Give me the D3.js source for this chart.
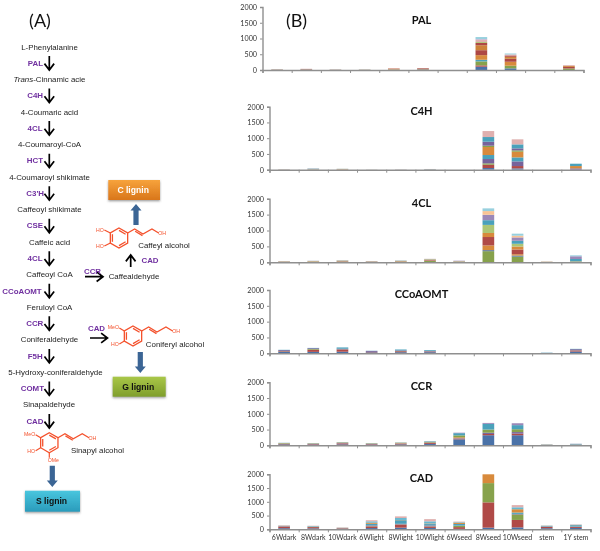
<!DOCTYPE html>
<html><head><meta charset="utf-8">
<script src="https://cdn.jsdelivr.net/npm/d3@7"></script>
<style>
html,body{margin:0;padding:0;background:#fff}
svg{display:block;filter:blur(0.3px)}
</style></head><body>
<svg id="c" width="600" height="551"></svg>
<script>
// ---------- DATA ----------
const categories = ["6Wdark","8Wdark","10Wdark","6Wlight","8Wlight","10Wlight","6Wseed","8Wseed","10Wseed","stem","1Y stem"];
const yTicks = [0,500,1000,1500,2000];

const PAL_values = [
 [5,8,3,4,5,8,0,105,52,0,0],
 [5,10,4,3,5,14,0,42,0,0,0],
 [4,4,3,3,5,8,0,126,84,0,50],
 [2,3,2,2,5,6,0,52,0,0,0],
 [2,4,1,2,20,6,0,147,126,0,0],
 [2,6,2,1,10,18,0,157,95,0,50],
 [0,0,0,0,0,0,0,157,63,0,30],
 [0,0,0,0,0,0,0,73,42,0,0],
 [0,0,0,0,0,0,0,30,0,0,0],
 [0,0,0,0,0,0,0,73,31,0,25],
 [0,0,0,0,0,0,0,21,0,0,0],
 [0,0,0,0,0,0,0,63,31,0,0]
];
const C4H_values = [
 [3,2,2,1,2,3,0,53,42,0,0],
 [4,3,3,1,2,3,0,106,74,0,0],
 [2,2,2,1,1,2,0,42,0,0,0],
 [1,3,2,1,2,3,0,138,148,0,42],
 [1,5,3,1,1,3,0,127,127,0,0],
 [1,5,10,1,1,2,0,254,180,0,74],
 [0,3,3,0,0,1,0,42,42,0,0],
 [0,3,2,0,0,1,0,127,64,0,0],
 [0,10,1,0,0,3,0,148,127,0,74],
 [0,6,1,0,0,2,0,190,160,0,0]
];
const FCL_values = [
 [10,15,20,10,20,40,10,350,180,5,20],
 [3,4,5,3,4,8,3,32,32,0,0],
 [5,6,8,5,6,10,5,148,42,3,10],
 [6,6,10,6,6,22,6,265,148,5,0],
 [4,4,5,4,4,8,6,127,95,3,0],
 [4,5,6,4,6,10,6,254,85,3,0],
 [3,3,5,3,5,5,4,148,95,2,74],
 [3,4,6,4,5,4,10,170,106,2,85],
 [1,2,3,1,2,2,0,117,53,2,0],
 [1,1,2,0,2,1,0,85,64,0,30]
];
const CCoAOMT_values = [
 [45,45,50,30,35,35,0,0,0,3,55],
 [20,70,70,12,30,20,0,0,0,2,35],
 [5,20,5,3,5,5,0,0,0,2,5],
 [30,25,20,30,20,15,0,0,0,5,35],
 [10,10,40,5,30,25,0,0,0,8,10]
];
const CCR_values = [
 [30,25,30,25,30,40,190,320,320,10,15],
 [15,15,30,15,20,30,20,40,50,3,5],
 [8,5,10,5,10,15,15,40,50,2,5],
 [5,5,5,5,10,5,30,0,0,2,0],
 [15,12,15,12,12,20,60,100,90,5,5],
 [5,5,5,5,5,15,70,180,130,5,15],
 [2,3,5,3,3,5,15,30,60,3,5]
];
const CAD_values = [
 [40,35,15,45,60,50,15,60,70,40,50],
 [60,45,20,60,110,50,65,920,270,50,35],
 [5,5,5,10,10,10,45,700,200,5,5],
 [10,5,5,25,20,30,10,0,20,10,10],
 [5,15,5,60,130,50,60,0,50,15,50],
 [5,5,5,40,10,20,45,320,120,5,5],
 [10,10,5,50,70,80,20,0,70,10,10],
 [15,10,10,40,60,80,20,0,80,5,15]
];

const pathwaySteps = ["L-Phenylalanine","Trans-Cinnamic acie","4-Coumaric acid","4-Coumaroyl-CoA","4-Coumaroyl shikimate","Caffeoyl shikimate","Caffeic acid","Caffeoyl CoA","Feruloyl CoA","Coniferaldehyde","5-Hydroxy-coniferaldehyde","Sinapaldehyde"];
const pathwayEnzymes = ["PAL","C4H","4CL","HCT","C3'H","CSE","4CL","CCoAOMT","CCR","F5H","COMT","CAD"];

// ---------- STYLE / LAYOUT ----------
const palette = ["#4a72a8","#b04a47","#87a24c","#77639b","#4aa1bb","#d88a3c",
 "#3a689b","#ad4744","#7a9745","#68558e","#3a90aa","#cd8238",
 "#7c9dca","#cc6a66","#adc676","#9b88b8","#65b8d0","#ef9f5e",
 "#aac1e0","#dfb0af","#c8d8a2","#baabcf","#98d0de","#f9c495"];
const panels = [
 {title:"PAL", values:PAL_values, colors:[0,1,2,4,5,7,11,7,14,19,21,22], x0:262.5, top:7, bottom:70, ty:20.5},
 {title:"C4H", values:C4H_values, colors:[0,1,2,3,4,5,2,3,4,19], x0:269.5, top:106.7, bottom:169.7, ty:111},
 {title:"4CL", values:FCL_values, colors:[2,0,5,1,5,14,4,15,23,22], x0:269.5, top:198.7, bottom:262.3, ty:203},
 {title:"CCoAOMT", values:CCoAOMT_values, colors:[0,1,2,3,4], x0:269.5, top:290, bottom:353.3, ty:294},
 {title:"CCR", values:CCR_values, colors:[0,1,3,5,2,4,15], x0:269.5, top:382.3, bottom:445.3, ty:386},
 {title:"CAD", values:CAD_values, colors:[0,1,2,3,4,5,16,19], x0:269.5, top:474.3, bottom:529.3, ty:478, labels:true}
];
const plotW = 321, axisCol = "#8f8f8f";
const svg = d3.select("#c");

// ---------- PANEL B ----------
panels.forEach(p=>{
  const x = d3.scaleBand().domain(categories).range([p.x0,p.x0+plotW]).paddingInner(0.6).paddingOuter(0.3);
  const bx = d3.scaleLinear().domain([0,categories.length]).range([p.x0,p.x0+plotW]);
  const y = d3.scaleLinear().domain([0,2000]).range([p.bottom,p.top]);
  const rows = categories.map((c,i)=>{const o={cat:c};p.values.forEach((s,k)=>o[k]=s[i]);return o;});
  const stack = d3.stack().keys(p.values.map((_,k)=>k))(rows);
  const g = svg.append("g");
  g.selectAll("g.s").data(stack).join("g").attr("fill",(d,k)=>palette[p.colors[k]])
   .selectAll("rect").data(d=>d).join("rect")
   .attr("x",d=>x(d.data.cat)).attr("width",x.bandwidth())
   .attr("y",d=>y(d[1])).attr("height",d=>Math.max(0,y(d[0])-y(d[1])));
  const ya = g.append("g").attr("transform",`translate(${p.x0},0)`)
    .call(d3.axisLeft(y).tickValues(yTicks).tickFormat(d3.format("d")).tickSize(2.5).tickPadding(3));
  const xa = g.append("g").attr("transform",`translate(0,${p.bottom})`)
    .call(d3.axisBottom(bx).ticks(categories.length).tickSize(3).tickFormat(""));
  [ya,xa].forEach(a=>{
    a.selectAll("path").attr("stroke",axisCol).attr("stroke-width",1.4);
    a.selectAll("line").attr("stroke",axisCol).attr("stroke-width",1);
  });
  ya.selectAll("text").attr("font-family","Lato").attr("font-size",7.2).attr("fill","#333");
  if(p.labels){
    const la = g.append("g").attr("transform",`translate(0,${p.bottom})`)
      .call(d3.axisBottom(x).tickSize(0).tickPadding(6));
    la.select("path").remove();
    la.selectAll("text").attr("font-family","Lato").attr("font-size",7).attr("fill","#333");
  }
  g.append("text").attr("x",421.5).attr("y",p.ty).attr("dy","0.35em").attr("text-anchor","middle")
   .attr("font-family","Lato").attr("font-weight",700).attr("font-size",11).attr("fill","#111").text(p.title);
});

// ---------- PANEL A ----------
const sans = "'Liberation Sans'";
function label(x,y,t,o={}){
  return svg.append("text").attr("x",x).attr("y",y).attr("dy","0.35em")
   .attr("text-anchor",o.anchor||"middle").attr("font-family",o.family||sans)
   .attr("font-size",o.size||7.9).attr("font-weight",o.weight||400).attr("fill",o.fill||"#222").text(t);
}
[["(A)",40,21],["(B)",296.5,21]].forEach(d=>label(d[1],d[2],d[0],{family:"Lato",size:18,fill:"#111"}));

const stepY = d3.scaleLinear().domain([0,11]).range([47,404.5]);
const enzY = d3.scaleLinear().domain([0,11]).range([63,421]);
const enzEnd = [43,43,42.5,43,44,43,42.5,41.7,43.3,42.7,44,43.5];
pathwaySteps.forEach((s,i)=>{
  const cx = i===10?55.5:(i===11?49:49.5);
  if(i===1){
    const t = label(cx,stepY(i),"");
    t.append("tspan").attr("font-style","italic").text("Trans");
    t.append("tspan").text("-Cinnamic acie");
  } else label(cx,stepY(i),s);
});
function blackArrow(x1,y1,x2,y2){
  const a=Math.atan2(y2-y1,x2-x1), h=8;
  const p1=[x2-h*Math.cos(a-0.65),y2-h*Math.sin(a-0.65)], p2=[x2-h*Math.cos(a+0.65),y2-h*Math.sin(a+0.65)];
  svg.append("path").attr("d",`M${x1},${y1}L${x2},${y2}M${p1}L${x2},${y2}L${p2}`)
   .attr("fill","none").attr("stroke","#000").attr("stroke-width",1.7);
}
pathwayEnzymes.forEach((e,i)=>{
  label(enzEnd[i],enzY(i),e,{anchor:"end",fill:"#7030a0",weight:700,size:7.9});
  blackArrow(49.3,enzY(i)-7,49.3,enzY(i)+7);
});
blackArrow(85,276.7,103,276.7); label(92.5,271.5,"CCR",{fill:"#7030a0",weight:700});
blackArrow(90,338,107.5,338);   label(96.5,328.5,"CAD",{fill:"#7030a0",weight:700});
blackArrow(130.7,267,130.7,255);label(150,260,"CAD",{fill:"#7030a0",weight:700});
label(134,276.5,"Caffealdehyde",{});
label(164,245,"Caffeyl alcohol");
label(175,344,"Coniferyl alcohol");
label(97.5,450.5,"Sinapyl alcohol");

function molecule(cx,cy,subs){
  const red="#f4512c", r=10, g=svg.append("g");
  const v=d3.range(6).map(k=>[cx+r*Math.cos((-90+60*k)*Math.PI/180),cy+r*Math.sin((-90+60*k)*Math.PI/180)]);
  const line=d3.line();
  g.append("path").attr("d",line(v)+"Z").attr("fill","none").attr("stroke",red).attr("stroke-width",1.3);
  [[0,1],[2,3],[4,5]].forEach(([a,b])=>{
    const s=0.76;
    const pa=[cx+(v[a][0]-cx)*s,cy+(v[a][1]-cy)*s],pb=[cx+(v[b][0]-cx)*s,cy+(v[b][1]-cy)*s];
    g.append("path").attr("d",line([pa,pb])).attr("stroke",red).attr("stroke-width",1.3);
  });
  const c=v[1];
  const ch=[c,[c[0]+7,c[1]-4],[c[0]+15.3,c[1]+1],[c[0]+24.3,c[1]-4],[c[0]+31,c[1]]];
  g.append("path").attr("d",line(ch)).attr("fill","none").attr("stroke",red).attr("stroke-width",1.3);
  g.append("path").attr("d",line([[c[0]+7.5,c[1]-1.8],[c[0]+14.8,c[1]+2.6]])).attr("fill","none").attr("stroke",red).attr("stroke-width",1.3);
  label(c[0]+34.5,c[1]+.3,"OH",{fill:red,size:5.2});
  subs.forEach(s=>{
    const p=v[s.v];
    const q=[p[0]+s.dx,p[1]+s.dy];
    g.append("path").attr("d",line([p,q])).attr("stroke",red).attr("stroke-width",1.2);
    label(q[0]+s.tx,q[1]+s.ty,s.t,{fill:red,size:5.2});
  });
}
molecule(119,238,[{v:5,dx:-6,dy:-3,tx:-4.5,ty:0,t:"HO"},{v:4,dx:-6,dy:3,tx:-4.5,ty:0,t:"HO"}]);
molecule(133,336,[{v:5,dx:-5,dy:-3,tx:-6,ty:-1,t:"MeO"},{v:4,dx:-5,dy:3,tx:-4.5,ty:0.5,t:"HO"}]);
molecule(49.3,442.7,[{v:5,dx:-5,dy:-3,tx:-6,ty:-1,t:"MeO"},{v:4,dx:-5,dy:3,tx:-4.5,ty:0.5,t:"HO"},{v:3,dx:0,dy:5,tx:4,ty:2,t:"OMe"}]);

// thick blue arrows
function blockArrow(x,y1,y2){
  const dir=y2>y1?1:-1, hw=5.5, bw=2.6, hl=6.5, b=y2-dir*hl;
  svg.append("path").attr("d",`M${x-bw},${y1}L${x-bw},${b}L${x-hw},${b}L${x},${y2}L${x+hw},${b}L${x+bw},${b}L${x+bw},${y1}Z`).attr("fill","#3b6595");
}
blockArrow(136,225,204);
blockArrow(140.3,352,373);
blockArrow(52.3,465.7,487);

// lignin buttons
const defs=svg.append("defs");
defs.append("filter").attr("id","sh").attr("x","-20%").attr("y","-20%").attr("width","140%").attr("height","150%")
 .append("feDropShadow").attr("dx",0).attr("dy",1.2).attr("stdDeviation",1).attr("flood-color","#555").attr("flood-opacity",.6);
function button(id,x,y,w,h,c1,c2,t,tc){
  const gr=defs.append("linearGradient").attr("id",id).attr("x1",0).attr("y1",0).attr("x2",0).attr("y2",1);
  gr.append("stop").attr("offset",0).attr("stop-color",c1);
  gr.append("stop").attr("offset",1).attr("stop-color",c2);
  svg.append("rect").attr("x",x).attr("y",y).attr("width",w).attr("height",h).attr("fill",`url(#${id})`).attr("filter","url(#sh)");
  label(x+w/2-1,y+h/2,t,{fill:tc,weight:700,size:8.6});
}
button("gc",108.3,180,51.7,20,"#f7a33c","#d9761a","C lignin","#fff");
button("gg",112.7,376.7,53,20,"#a9c748","#7f9e2c","G lignin","#111");
button("gs",25,490.7,55,21,"#49c6de","#2a9bbb","S lignin","#111");
</script>
</body></html>
